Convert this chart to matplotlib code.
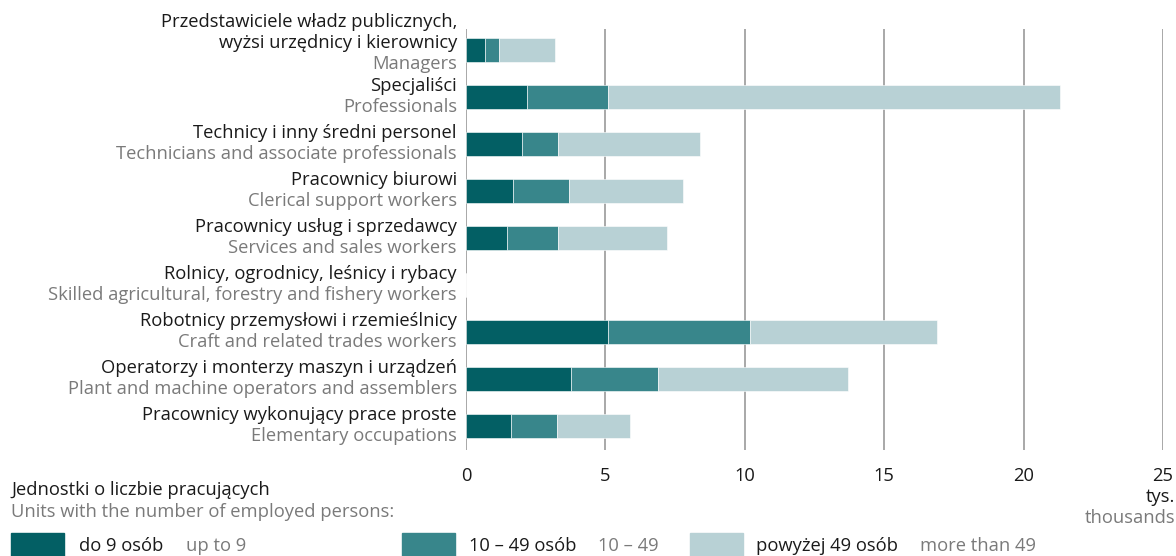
import matplotlib.pyplot as plt
from matplotlib.patches import Rectangle

plt.rcParams['font.family'] = ['Open Sans', 'DejaVu Sans']

labels_pl = [
    "Przedstawiciele władz publicznych,\nwyżsi urzędnicy i kierownicy",
    "Specjaliści",
    "Technicy i inny średni personel",
    "Pracownicy biurowi",
    "Pracownicy usług i sprzedawcy",
    "Rolnicy, ogrodnicy, leśnicy i rybacy",
    "Robotnicy przemysłowi i rzemieślnicy",
    "Operatorzy i monterzy maszyn i urządzeń",
    "Pracownicy wykonujący prace proste",
]
labels_en = [
    "Managers",
    "Professionals",
    "Technicians and associate professionals",
    "Clerical support workers",
    "Services and sales workers",
    "Skilled agricultural, forestry and fishery workers",
    "Craft and related trades workers",
    "Plant and machine operators and assemblers",
    "Elementary occupations",
]
# thousands of employed persons
small = [0.69, 2.2, 2.0, 1.7, 1.47, 0, 5.08, 3.77, 1.6]
medium = [0.50, 2.9, 1.29, 1.98, 1.82, 0, 5.1, 3.12, 1.68]
large = [2.0, 16.2, 5.1, 4.11, 3.91, 0, 6.72, 6.81, 2.62]

series_pl = ["do 9 osób", "10 – 49 osób", "powyżej 49 osób"]
series_en = ["up to 9", "10 – 49", "more than 49"]
colors = ["#035f64", "#38868b", "#b8d1d5"]
xticks = [0, 5, 10, 15, 20, 25]

black = "#1a1a1a"
grey = "#7a7a7a"
fs = 13.2
W, H = 1176, 556

fig = plt.figure(figsize=(W / 100, H / 100), dpi=100)
ax = fig.add_axes([466 / W, 1 - 450 / H, 697 / W, 421 / H])

y = list(range(len(labels_pl)))
left = [0] * len(y)
for vals, c in zip([small, medium, large], colors):
    ax.barh(y, vals, left=left, height=0.51, color=c, edgecolor="white",
            linewidth=0.4, zorder=3)
    left = [a + b for a, b in zip(left, vals)]

ax.set_xlim(0, 25)
ax.set_ylim(8.51, -0.447)
ax.set_xticks(xticks)
ax.set_xticklabels([str(t) for t in xticks], fontsize=fs, color=black)
ax.tick_params(axis="x", length=0, pad=12)
ax.set_yticks([])
for s in ax.spines.values():
    s.set_visible(False)
for t in xticks:
    ax.axvline(t, color="#999999", lw=1.2, zorder=1)

# bilingual category labels, one text per line
for i, (pl, en) in enumerate(zip(labels_pl, labels_en)):
    lines = pl.split("\n")
    shift = 4 * (len(lines) - 1)
    ax.annotate(en, xy=(-0.013, i), xycoords=("axes fraction", "data"),
                xytext=(0, -(10 + shift)), textcoords="offset pixels",
                ha="right", va="center", fontsize=fs, color=grey)
    for k, line in enumerate(reversed(lines)):
        ax.annotate(line, xy=(-0.013, i), xycoords=("axes fraction", "data"),
                    xytext=(0, 11 - shift + 21 * k), textcoords="offset pixels",
                    ha="right", va="center", fontsize=fs, color=black)

fig.text(1175 / W, 1 - 497 / H, "tys.", ha="right", va="center",
         fontsize=fs, color=black)
fig.text(1175 / W, 1 - 518 / H, "thousands", ha="right", va="center",
         fontsize=fs, color=grey)

fig.text(11 / W, 1 - 490 / H, "Jednostki o liczbie pracujących",
         ha="left", va="center", fontsize=fs, color=black)
fig.text(11 / W, 1 - 512 / H, "Units with the number of employed persons:",
         ha="left", va="center", fontsize=fs, color=grey)

box_x = [11, 402, 690]
pl_x = [79, 469, 756]
en_x = [186, 598, 920]
for bx, px, ex, c, pl, en in zip(box_x, pl_x, en_x, colors, series_pl, series_en):
    fig.patches.append(Rectangle((bx / W, 0), 53 / W, 23 / H,
                                 transform=fig.transFigure, color=c))
    fig.text(px / W, 1 - 546 / H, pl, ha="left", va="center",
             fontsize=fs, color=black)
    fig.text(ex / W, 1 - 546 / H, en, ha="left", va="center",
             fontsize=fs, color=grey)

fig.savefig("out.png", dpi=100)
